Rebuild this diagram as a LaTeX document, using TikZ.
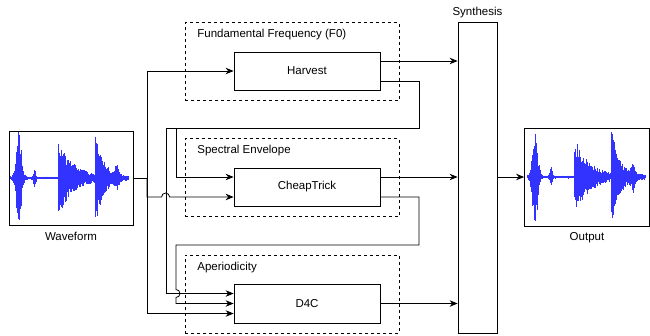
\documentclass[tikz,border=0pt]{standalone}
\usepackage{fontspec}
\setmainfont{Liberation Sans}
\usetikzlibrary{arrows.meta,calc,positioning}
\definecolor{WaveBlue}{HTML}{0000FF}
\newcommand{\wavetrace}[1]{%
  \pgfmathsetseed{#1}
  \draw[WaveBlue,line width=.6pt] (2,0)--(120,0);
  \foreach \t in {2,2.5,...,120} {
    \pgfmathsetmacro{\amp}{1.5+46*exp(max(-9,0-(\t-10)*(\t-10)/12))+(\t>49)*38*exp(0-max(0,\t-49)/15)+(\t>86)*42*exp(0-max(0,\t-87)/8)+9*exp(max(-9,0-(\t-26)*(\t-26)/2))+11*exp(max(-9,0-(\t-108)*(\t-108)/5))}
    \pgfmathsetmacro{\up}{\amp*(.45+.55*rnd)}
    \pgfmathsetmacro{\dn}{\amp*(.45+.55*rnd)}
    \draw[WaveBlue!80,line width=.45pt] (\t,-\up)--(\t,\dn);
  }}

\begin{document}
\begin{tikzpicture}[x=1pt,y=-1pt,font=\fontsize{11.5}{13}\selectfont,
  box/.style={draw,line width=.8pt,minimum width=146,minimum height=38},
  group/.style={draw,dash pattern=on 3pt off 3pt,minimum width=214,minimum height=78},
  flow/.style={-{Stealth[length=8pt,width=6.5pt]},line width=.8pt},
  link/.style={line width=.8pt}]
  \useasboundingbox (0,0) rectangle (650,335);

  \node[group] (f0grp) at (292,61.5) {};
  \node[group] (spgrp) at (292,177.5) {};
  \node[group] (apgrp) at (292,294) {};
  \node[anchor=west] (f0lbl) at ($(f0grp.north west)+(9,12)$) {Fundamental Frequency (F0)};
  \node[anchor=west] (splbl) at ($(spgrp.north west)+(9,12.5)$) {Spectral Envelope};
  \node[anchor=west] (aplbl) at ($(apgrp.north west)+(9,12.5)$) {Aperiodicity};

  \node[box] (harvest) at (307,71) {Harvest};
  \node[box] (cheap) at (307,187) {CheapTrick};
  \node[box,minimum height=39] (d4c) at (307,303.5) {D4C};
  \node[box,minimum width=39,minimum height=311] (synth) at (477.5,177.5) {};
  \node[above=0pt of synth] (synthlbl) {Synthesis};

  \node[box,minimum width=124,minimum height=94] (wave) at (71,178) {};
  \node[below=3.5pt of wave] (wavelbl) {Waveform};
  \node[box,minimum width=125,minimum height=98] (out) at (587,177) {};
  \node[below=2.5pt of out] (outlbl) {Output};
  \begin{scope}[shift={(wave.west)}]
    \wavetrace{7}
  \end{scope}
  \begin{scope}[shift={(out.west)},xshift=1pt]
    \wavetrace{23}
  \end{scope}

  \coordinate (split) at (147,178);
  \coordinate (hRet) at (419,128);
  \coordinate (cRet) at (419,245);
  \coordinate (laneA) at (166,128);
  \coordinate (laneB) at (176,128);

  \draw[link] (wave.east) -- (split);
  \draw[flow] (split) |- (harvest.west);
  \draw[flow] (split) |- ($(cheap.west)+(-72,10)$) arc[start angle=180,end angle=360,radius=4] -- ($(cheap.west)+(0,10)$);
  \draw[flow] (split) |- ($(d4c.west)+(0,10)$);

  \draw[flow] ($(harvest.east)+(0,10)$) -| (hRet) -- (laneB) |- ($(cheap.west)+(0,-10)$);
  \draw[flow] ($(harvest.east)+(0,10)$) -| (hRet) -- (laneA) |- ($(d4c.west)+(0,-10)$);
  \draw[flow] ($(cheap.east)+(0,10)$) -| (cRet) -- (laneB |- cRet) -- ($(laneB |- d4c.west)+(0,-14)$) arc[start angle=270,end angle=450,radius=4] |- (d4c.west);

  \draw[flow] ($(harvest.east)+(0,-10)$) coordinate (h1) -- (synth.west |- h1);
  \draw[flow] ($(cheap.east)+(0,-10)$) coordinate (c1) -- (synth.west |- c1);
  \draw[flow] (d4c.east) -- (synth.west |- d4c.east);
  \draw[flow] (synth.east |- out.west) -- (out.west);
\end{tikzpicture}
\end{document}
